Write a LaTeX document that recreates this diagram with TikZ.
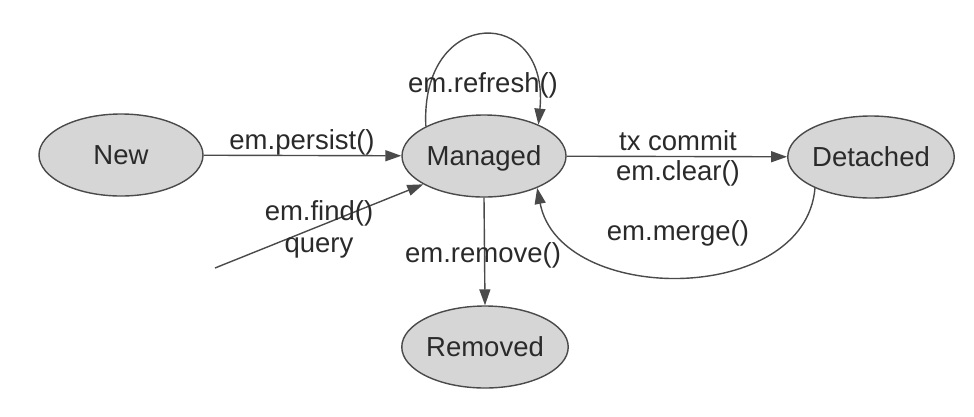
\documentclass[tikz,border=0pt]{standalone}
\usepackage{fontspec}
\setmainfont{Liberation Sans}
\usetikzlibrary{shapes.geometric,arrows.meta}
\definecolor{statefill}{HTML}{D6D6D6}
\definecolor{lineclr}{HTML}{4A4A4A}
\definecolor{textclr}{HTML}{2A2A2A}
\tikzset{
  state/.style={ellipse, draw=lineclr, fill=statefill, line width=1.4pt,
    minimum width=164pt, minimum height=82pt, inner sep=0pt,
    text=textclr, font=\fontsize{27.5}{30}\selectfont,
    text height=19.8pt, text depth=0pt},
  lbl/.style={anchor=base, text=textclr, font=\fontsize{27.5}{30}\selectfont, inner sep=0pt},
  arr/.style={draw=lineclr, line width=1.4pt, -{Triangle[length=16pt,width=11pt]}}
}
\begin{document}
\begin{tikzpicture}[x=1pt,y=-1pt]
\useasboundingbox[fill=white] (0,0) rectangle (974,416);
\node[state] (new) at (121,155) {New};
\node[state] (managed) at (484,156) {Managed};
\node[state] (detached) at (871,157) {Detached};
\node[state] (removed) at (485,347) {Removed};
\coordinate (src) at (215,268);

\draw[arr] (new) -- (managed);
\draw[arr] (managed) -- (detached);
\draw[arr] (managed.south) -- (removed.north);
\draw[arr] (managed.153) .. controls (420,5) and (550,5) .. (managed.30);
\draw[arr] (detached.209) .. controls (805,306) and (560,306) .. (managed.329);
\draw[arr] (src) -- (managed.205);

\node[lbl] (lpersist) at (302,149) {em.persist()};
\node[lbl] (ltx) at (678,150) {tx commit};
\node[lbl] (lclear) at (678,180) {em.clear()};
\node[lbl] (lmerge) at (678,240) {em.merge()};
\node[lbl] (lfind) at (319,220) {em.find()};
\node[lbl] (lquery) at (319,252) {query};
\node[lbl] (lrefresh) at (483,92) {em.refresh()};
\node[lbl] (lremove) at (483,262) {em.remove()};
\end{tikzpicture}
\end{document}
